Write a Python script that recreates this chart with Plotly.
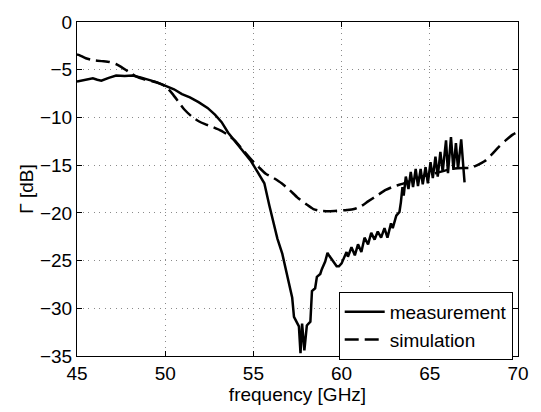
import plotly.graph_objects as go

meas_freq = [45.0, 45.13, 45.5, 45.9, 46.15, 46.38, 46.8, 47.22, 47.7, 48.15, 48.6, 49.09, 49.5,
             50.02, 50.5, 50.95, 51.4, 51.89, 52.4, 52.82, 53.2, 53.57, 54.13, 54.5, 54.87, 55.2,
             55.62, 55.9, 56.1, 56.36, 56.64, 56.83, 57.02, 57.2, 57.3, 57.38, 57.58, 57.67, 57.76,
             57.89, 58.03, 58.23, 58.32, 58.5, 58.6, 58.79, 58.88, 59.07, 59.2, 59.3, 59.44, 59.72,
             59.85, 60.0, 60.28, 60.36, 60.56, 60.75, 60.93, 61.12, 61.3, 61.5, 61.68, 61.87, 62.05,
             62.24, 62.43, 62.6, 62.8, 62.9, 63.1, 63.28, 63.36, 63.45, 63.52, 63.64, 63.79, 63.92,
             64.05, 64.2, 64.33, 64.48, 64.6, 64.76, 64.89, 65.04, 65.17, 65.32, 65.45, 65.6, 65.73,
             65.92, 66.03, 66.2, 66.34, 66.48, 66.6, 66.78, 66.97]
meas_db = [-6.25, -6.2, -6.0, -5.9, -6.05, -6.15, -5.85, -5.6, -5.65, -5.6, -5.8, -6.05, -6.3,
           -6.7, -7.05, -7.55, -7.9, -8.4, -9.0, -9.7, -10.5, -11.6, -12.9, -13.8, -14.6, -15.6,
           -16.9, -19.2, -20.8, -22.7, -24.3, -25.9, -27.6, -28.9, -30.9, -31.2, -31.9, -34.7, -31.6,
           -34.4, -31.8, -31.4, -28.2, -27.9, -26.7, -26.4, -25.9, -25.1, -24.2, -24.5, -24.9, -25.6,
           -25.6, -25.3, -24.1, -24.6, -23.6, -24.45, -23.3, -24.1, -22.6, -23.3, -22.1, -22.8, -21.95,
           -22.6, -21.6, -22.6, -21.1, -21.6, -20.3, -19.9, -18.9, -17.3, -18.2, -16.2, -17.5, -15.7,
           -17.3, -15.4, -17.2, -15.4, -17.0, -15.2, -16.9, -14.7, -16.35, -14.1, -16.2, -13.6, -15.7,
           -12.4, -15.85, -12.06, -15.5, -12.7, -15.4, -12.3, -16.8]

sim_freq = [45.0, 45.13, 45.5, 45.9, 46.4, 46.85, 47.2, 47.5, 47.9, 48.34, 48.8, 49.27, 49.7, 50.02,
            50.4, 50.77, 51.1, 51.5, 51.9, 52.26, 52.7, 53.19, 53.6, 53.94, 54.4, 54.87, 55.3, 55.7,
            56.1, 56.6, 57.05, 57.5, 58.0, 58.4, 58.8, 59.6, 60.3, 60.7, 61.1, 61.5, 62.0, 62.5, 63.0,
            63.45, 64.0, 64.4, 64.9, 65.4, 65.9, 66.4, 66.9, 67.3, 67.7, 68.1, 68.5, 68.9, 69.3, 69.7, 70.0]
sim_db = [-3.4, -3.47, -3.8, -4.0, -4.1, -4.2, -4.4, -4.7, -5.2, -5.7, -6.0, -6.2, -6.45, -6.75,
          -7.5, -8.4, -9.2, -9.9, -10.4, -10.7, -11.0, -11.4, -11.9, -12.4, -13.4, -14.4, -15.2, -15.9,
          -16.3, -16.9, -17.6, -18.4, -19.1, -19.6, -19.8, -19.8, -19.7, -19.6, -19.3, -18.8, -18.2, -17.6, -17.2,
          -16.96, -16.6, -16.3, -16.0, -15.8, -15.55, -15.35, -15.3, -15.3, -15.0, -14.6, -13.9, -13.1, -12.4, -11.8, -11.5]

x_ticks = [45, 50, 55, 60, 65, 70]
y_ticks = [0, -5, -10, -15, -20, -25, -30, -35]

FONT = "Liberation Sans, Arial, Helvetica, sans-serif"

fig = go.Figure()
fig.add_trace(go.Scatter(x=meas_freq, y=meas_db, mode="lines", name="measurement",
                         line=dict(color="black", width=2.5)))
fig.add_trace(go.Scatter(x=sim_freq, y=sim_db, mode="lines", name="simulation",
                         line=dict(color="black", width=2.5, dash="14px,6px", shape="spline", smoothing=0.6)))

axis_common = dict(showline=True, linecolor="black", linewidth=1, mirror="ticks",
                   ticks="inside", ticklen=5, tickcolor="black", tickwidth=1,
                   showgrid=True, gridcolor="#8a8a8a", griddash="1px,4.5px", gridwidth=1,
                   zeroline=False, tickfont=dict(size=19, color="black", family=FONT))

fig.update_xaxes(range=[45, 70], tickvals=x_ticks,
                 title=dict(text="frequency [GHz]", font=dict(size=19, color="black", family=FONT), standoff=3),
                 **axis_common)
fig.update_yaxes(range=[-35, 0], tickvals=y_ticks,
                 title=dict(text="Γ [dB]", font=dict(size=19, color="black", family=FONT), standoff=1),
                 **axis_common)

fig.update_layout(
    width=541, height=412,
    margin=dict(l=77, r=18, t=12, b=52),
    paper_bgcolor="white", plot_bgcolor="white",
    font=dict(family=FONT, color="black"),
    showlegend=True,
    legend=dict(x=0.988, y=0.09, xanchor="right", yanchor="middle",
                bgcolor="white", bordercolor="black", borderwidth=1,
                font=dict(size=19, color="black", family=FONT),
                tracegroupgap=0, itemwidth=40),
)

fig.write_html("out.html")
